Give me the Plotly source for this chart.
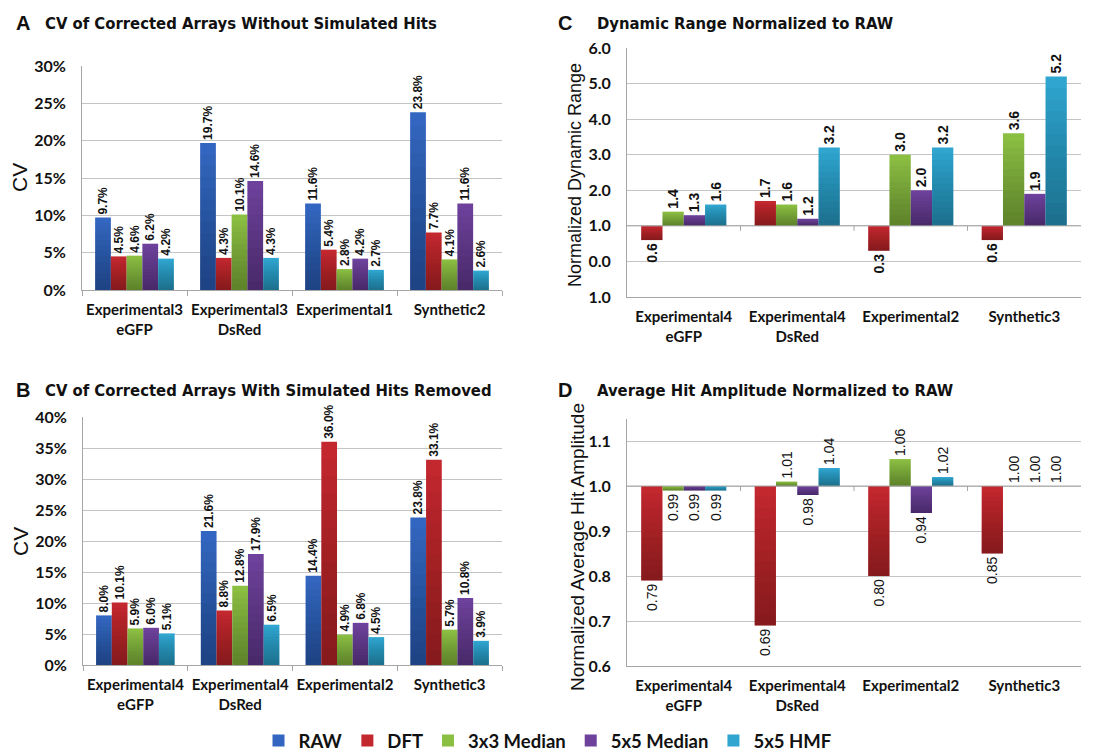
import plotly.graph_objects as go

W, H = 1095, 754

series = ["RAW", "DFT", "3x3 Median", "5x5 Median", "5x5 HMF"]
colors = ["#3366c0", "#c4282f", "#8bbf42", "#6d419c", "#2fa5cf"]

# Panel A: CV without simulated hits (percent)
cats_a = ["Experimental3<br>eGFP", "Experimental3<br>DsRed", "Experimental1", "Synthetic2"]
raw_a = [9.7, 19.7, 11.6, 23.8]
dft_a = [4.5, 4.3, 5.4, 7.7]
med3_a = [4.6, 10.1, 2.8, 4.1]
med5_a = [6.2, 14.6, 4.2, 11.6]
hmf_a = [4.2, 4.3, 2.7, 2.6]

# Panel B: CV with simulated hits removed (percent)
cats_b = ["Experimental4<br>eGFP", "Experimental4<br>DsRed", "Experimental2", "Synthetic3"]
raw_b = [8.0, 21.6, 14.4, 23.8]
dft_b = [10.1, 8.8, 36.0, 33.1]
med3_b = [5.9, 12.8, 4.9, 5.7]
med5_b = [6.0, 17.9, 6.8, 10.8]
hmf_b = [5.1, 6.5, 4.5, 3.9]

# Panel C: dynamic range normalized to RAW
cats_c = cats_b
dft_c = [0.6, 1.7, 0.3, 0.6]
med3_c = [1.4, 1.6, 3.0, 3.6]
med5_c = [1.3, 1.2, 2.0, 1.9]
hmf_c = [1.6, 3.2, 3.2, 5.2]
ticks_c = [-1, 0, 1, 2, 3, 4, 5, 6]
ticktext_c = ["1.0", "0.0", "1.0", "2.0", "3.0", "4.0", "5.0", "6.0"]

# Panel D: average hit amplitude normalized to RAW
cats_d = cats_b
dft_d = [0.79, 0.69, 0.80, 0.85]
med3_d = [0.99, 1.01, 1.06, 1.00]
med5_d = [0.99, 0.98, 0.94, 1.00]
hmf_d = [0.99, 1.04, 1.02, 1.00]
ticks_d = [0.6, 0.7, 0.8, 0.9, 1.0, 1.1]

BASE = 1.0  # RAW reference level for normalized panels

# vertical shading: stacked translucent layers darken each bar toward its bottom
SHADE_STEPS = 12
SHADE_ALPHA = 0.028


def px(x):
    return x / W


def py(y):
    return 1 - y / H


GRID = "#c4c4c4"
LINE = "#a6a6a6"
LABEL_FONT = "Liberation Sans, Arial, sans-serif"
TICK_FONT = "Lato, Open Sans, sans-serif"
TITLE_FONT = "DejaVu Sans Condensed, DejaVu Sans, sans-serif"

fig = go.Figure()


def add_series(name, col, cats, vals, start, ax, text, textfont, legend):
    xa, ya = "x" + ax, "y" + ax
    fig.add_trace(go.Bar(
        x=cats, y=[v - start for v in vals], base=start, name=name,
        marker_color=col, marker_line_width=0, offsetgroup=name,
        text=text, textposition="outside", textangle=-90,
        constraintext="none", cliponaxis=False, textfont=textfont,
        xaxis=xa, yaxis=ya, showlegend=legend, legendgroup=name,
    ))
    lows = [min(start, v) for v in vals]
    spans = [abs(v - start) for v in vals]
    for k in range(1, SHADE_STEPS + 1):
        f = k / (SHADE_STEPS + 1)
        fig.add_trace(go.Bar(
            x=cats, y=[f * s for s in spans], base=lows,
            marker_color=f"rgba(0,0,0,{SHADE_ALPHA})", marker_line_width=0,
            offsetgroup=name, hoverinfo="skip", showlegend=False,
            legendgroup=name, xaxis=xa, yaxis=ya,
        ))


# CV panels
cv_font = dict(family=LABEL_FONT, size=12, color="#111", weight="bold")
for ax, cats, groups in [
    ("", cats_a, [raw_a, dft_a, med3_a, med5_a, hmf_a]),
    ("2", cats_b, [raw_b, dft_b, med3_b, med5_b, hmf_b]),
]:
    for name, col, vals in zip(series, colors, groups):
        add_series(name, col, cats, vals, 0, ax,
                   [f"{v:.1f}%" for v in vals], cv_font, ax == "")

# Normalized panels: bars start at the RAW level
for ax, cats, groups, fmt, tf in [
    ("3", cats_c, [dft_c, med3_c, med5_c, hmf_c], "{:.1f}",
     dict(family=LABEL_FONT, size=14, color="#111", weight="bold")),
    ("4", cats_d, [dft_d, med3_d, med5_d, hmf_d], "{:.2f}",
     dict(family=LABEL_FONT, size=14, color="#111")),
]:
    for name, col, vals in zip(series[1:], colors[1:], groups):
        add_series(name, col, cats, vals, BASE, ax,
                   [fmt.format(v) for v in vals], tf, False)

catax = dict(
    type="category", tickson="boundaries", ticks="outside", ticklen=5,
    tickcolor=LINE, showline=True, linecolor=LINE, showgrid=False,
    tickangle=0,
    tickfont=dict(family=TICK_FONT, size=15, color="#111", weight="bold"),
    ticklabelstandoff=6,
)
valax = dict(
    showgrid=True, gridcolor=GRID, gridwidth=1, showline=True,
    linecolor=LINE, zeroline=False, ticks="",
    tickfont=dict(family=TICK_FONT, size=16, color="#111", weight="bold"),
    ticklabelstandoff=12,
)

# pixel frames of the four plot areas
ca_x, ca_y = (82, 502), (66, 290)
cb_x, cb_y = (83, 502), (417, 665)
cc_x, cc_y = (627, 1081), (48, 297)
cd_x, cd_y = (627, 1081), (419, 666)

fig.update_layout(
    xaxis=dict(catax, domain=[px(ca_x[0]), px(ca_x[1])], anchor="y"),
    yaxis=dict(valax, domain=[py(ca_y[1]), py(ca_y[0])], anchor="x",
               range=[0, 30], dtick=5, ticksuffix="%"),
    xaxis2=dict(catax, domain=[px(cb_x[0]), px(cb_x[1])], anchor="y2"),
    yaxis2=dict(valax, domain=[py(cb_y[1]), py(cb_y[0])], anchor="x2",
                range=[0, 40], dtick=5, ticksuffix="%"),
    xaxis3=dict(catax, domain=[px(cc_x[0]), px(cc_x[1])], anchor="y3",
                ticks=""),
    yaxis3=dict(valax, domain=[py(cc_y[1]), py(cc_y[0])], anchor="x3",
                range=[-1, 6], tickvals=ticks_c, ticktext=ticktext_c),
    xaxis4=dict(catax, domain=[px(cd_x[0]), px(cd_x[1])], anchor="y4",
                ticks=""),
    yaxis4=dict(valax, domain=[py(cd_y[1]), py(cd_y[0])], anchor="x4",
                range=[0.6, 1.149], tickvals=ticks_d, tickformat=".1f"),
)

# category axis drawn at the RAW level in C and D, with boundary ticks
shapes = []
for xa, ya in [("x3", "y3"), ("x4", "y4")]:
    shapes.append(dict(type="line", xref=f"{xa} domain", yref=ya,
                       x0=0, x1=1, y0=BASE, y1=BASE,
                       line=dict(color=LINE, width=1), layer="above"))
    for b in [0.5, 1.5, 2.5]:
        shapes.append(dict(type="line", xref=xa, yref=ya, ysizemode="pixel",
                           yanchor=BASE, x0=b, x1=b, y0=0, y1=-5,
                           line=dict(color=LINE, width=1)))

ann = []
# panel letters and titles
for letter, title, lx, tx, cy in [
    ("A", "CV of Corrected Arrays Without Simulated Hits", 14, 43, 23),
    ("B", "CV of Corrected Arrays With Simulated Hits Removed", 14, 43, 390),
    ("C", "Dynamic Range Normalized to RAW", 556, 595, 23),
    ("D", "Average Hit Amplitude Normalized to RAW", 556, 595, 390),
]:
    ann.append(dict(text=letter, x=px(lx), y=py(cy), xref="paper", yref="paper",
                    xanchor="left", yanchor="middle", showarrow=False,
                    font=dict(family="Liberation Sans, Arial, sans-serif", size=20,
                              color="#111", weight="bold")))
    ann.append(dict(text=title, x=px(tx), y=py(cy), xref="paper", yref="paper",
                    xanchor="left", yanchor="middle", showarrow=False,
                    font=dict(family=TITLE_FONT, size=16.5, color="#111", weight="bold")))

# y-axis titles
for text, cx, cy, size in [
    ("CV", 20, 178, 21),
    ("CV", 20, 542, 21),
    ("Normalized Dynamic Range", 575, 175, 18),
    ("Normalized Average Hit Amplitude", 577, 547, 19),
]:
    ann.append(dict(text=text, x=px(cx), y=py(cy), xref="paper", yref="paper",
                    xanchor="center", yanchor="middle", textangle=-90,
                    showarrow=False,
                    font=dict(family=LABEL_FONT, size=size, color="#111")))

fig.update_layout(
    width=W, height=H,
    margin=dict(l=0, r=0, t=0, b=0, autoexpand=False),
    paper_bgcolor="white", plot_bgcolor="white",
    barmode="group", bargap=0.25, bargroupgap=0,
    annotations=ann, shapes=shapes,
    legend=dict(orientation="h", x=0.5, xanchor="center", y=py(741),
                yanchor="middle", itemwidth=30, traceorder="normal",
                font=dict(family=TICK_FONT, size=18.5, color="#111", weight="bold")),
)

fig.write_html("out.html")
